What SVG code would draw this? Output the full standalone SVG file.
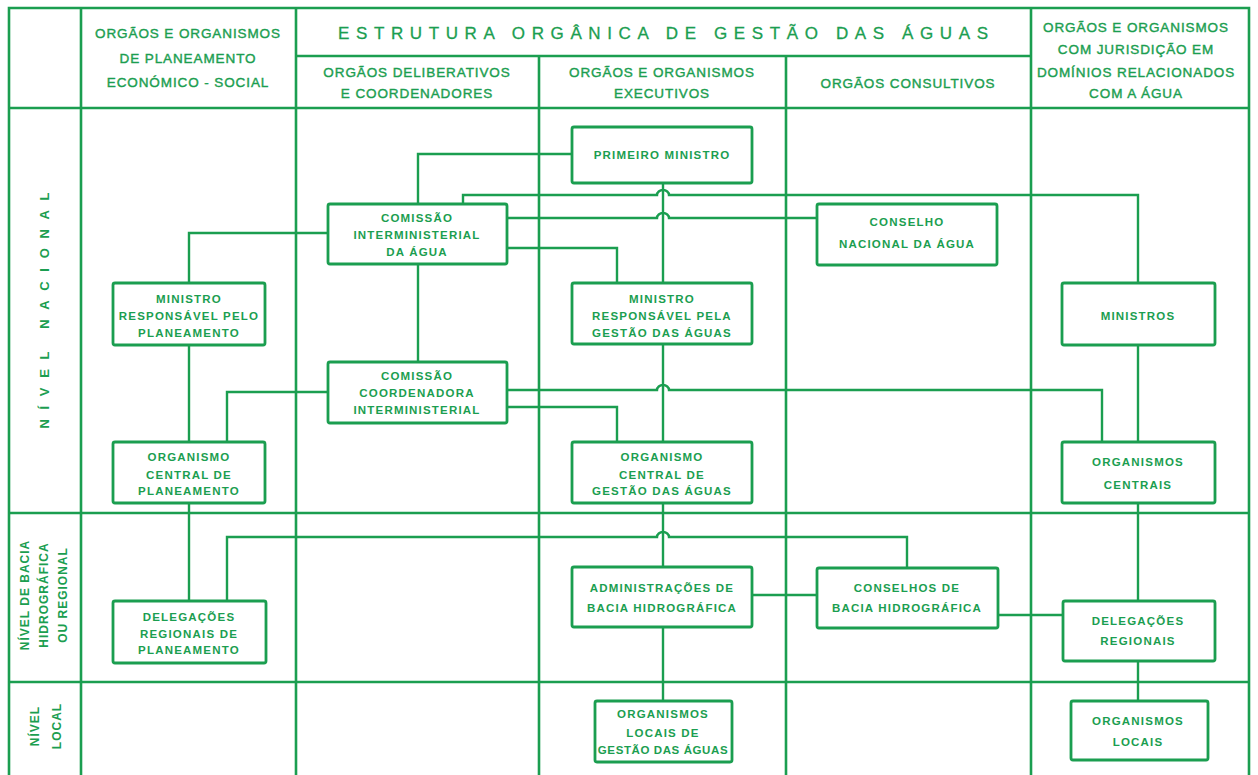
<svg xmlns="http://www.w3.org/2000/svg" width="1258" height="775" viewBox="0 0 1258 775">
<style>
.g{stroke:#1b9e50;stroke-width:2.6;fill:none;stroke-linecap:square}
.c{stroke:#1b9e50;stroke-width:2.4;fill:none}
.b{stroke:#1b9e50;stroke-width:2.8;fill:#fff}
text{font-family:"Liberation Sans","DejaVu Sans",sans-serif;fill:#1b9e50;text-anchor:middle}
.h{font-size:13.5px;letter-spacing:0.9px;stroke:#1b9e50;stroke-width:0.4}
.t{font-size:17px;stroke:#1b9e50;stroke-width:0.3}
.n{font-size:11.5px;font-weight:bold;letter-spacing:1.2px}
.s{font-size:12px;font-weight:bold;letter-spacing:1px}
</style>
<rect width="1258" height="775" fill="#fff"/>
<g id="grid">
<path class="g" d="M9,8 H1249 M9,8 V775 M1249,8 V775 M81,8 V775 M296,8 V775 M1031,8 V775 M539,56 V775 M786,56 V775 M296,56 H1031 M9,108 H1249 M9,513 H1249 M9,682 H1249"/>
</g>
<g id="headers">
<text class="h" x="188" y="38">ORGÃOS E ORGANISMOS</text>
<text class="h" x="188" y="63">DE PLANEAMENTO</text>
<text class="h" x="188" y="87">ECONÓMICO - SOCIAL</text>
<text class="t" x="663" y="39" textLength="650" lengthAdjust="spacing">ESTRUTURA ORGÂNICA DE GESTÃO DAS ÁGUAS</text>
<text class="h" x="417" y="77">ORGÃOS DELIBERATIVOS</text>
<text class="h" x="417" y="98">E COORDENADORES</text>
<text class="h" x="662" y="77">ORGÃOS E ORGANISMOS</text>
<text class="h" x="662" y="98">EXECUTIVOS</text>
<text class="h" x="908" y="88">ORGÃOS CONSULTIVOS</text>
<text class="h" x="1136" y="32">ORGÃOS E ORGANISMOS</text>
<text class="h" x="1136" y="54">COM JURISDIÇÃO EM</text>
<text class="h" x="1136" y="77">DOMÍNIOS RELACIONADOS</text>
<text class="h" x="1136" y="98">COM A ÁGUA</text>
</g>
<g id="levels">
<text class="s" transform="translate(49,310) rotate(-90)" style="font-size:13px" textLength="237" lengthAdjust="spacing">NÍVEL NACIONAL</text>
<text class="s" transform="translate(29,595) rotate(-90)">NÍVEL DE BACIA</text>
<text class="s" transform="translate(48,595) rotate(-90)">HIDROGRÁFICA</text>
<text class="s" transform="translate(67,595) rotate(-90)">OU REGIONAL</text>
<text class="s" transform="translate(39,726) rotate(-90)">NÍVEL</text>
<text class="s" transform="translate(61,726) rotate(-90)">LOCAL</text>
</g>
<g id="connectors">
<path class="c" d="M572,154 H418 V204"/>
<path class="c" d="M418,264 V362"/>
<path class="c" d="M463,204 V195 H657 A6,5 0 0 1 669,195 H1138 V283"/>
<path class="c" d="M507,218 H657 A6,5 0 0 1 669,218 H817"/>
<path class="c" d="M507,248 H617 V283"/>
<path class="c" d="M328,233 H189 V283"/>
<path class="c" d="M189,345 V442"/>
<path class="c" d="M663,183 V283"/>
<path class="c" d="M663,344 V442"/>
<path class="c" d="M328,392 H227 V442"/>
<path class="c" d="M507,390 H657 A6,5 0 0 1 669,390 H1102 V442"/>
<path class="c" d="M507,407 H617 V442"/>
<path class="c" d="M1138,345 V442"/>
<path class="c" d="M189,503 V601"/>
<path class="c" d="M227,601 V537 H657 A6,5 0 0 1 669,537 H907 V568"/>
<path class="c" d="M663,503 V567"/>
<path class="c" d="M663,627 V701"/>
<path class="c" d="M752,595 H817"/>
<path class="c" d="M998,615 H1063"/>
<path class="c" d="M1138,503 V601"/>
<path class="c" d="M1138,661 V701"/>
</g>
<g id="primeiro-ministro">
<rect class="b" x="572" y="127" width="180" height="56" rx="2"/>
<text class="n" x="662" y="159">PRIMEIRO MINISTRO</text>
</g>
<g id="comissao-interministerial">
<rect class="b" x="328" y="204" width="179" height="60" rx="2"/>
<text class="n" x="417" y="222">COMISSÃO</text>
<text class="n" x="417" y="239">INTERMINISTERIAL</text>
<text class="n" x="417" y="256">DA ÁGUA</text>
</g>
<g id="conselho-nacional">
<rect class="b" x="817" y="204" width="180" height="61" rx="2"/>
<text class="n" x="907" y="226">CONSELHO</text>
<text class="n" x="907" y="248">NACIONAL DA ÁGUA</text>
</g>
<g id="ministro-planeamento">
<rect class="b" x="113" y="283" width="152" height="62" rx="2"/>
<text class="n" x="189" y="303">MINISTRO</text>
<text class="n" x="189" y="320">RESPONSÁVEL PELO</text>
<text class="n" x="189" y="337">PLANEAMENTO</text>
</g>
<g id="ministro-gestao">
<rect class="b" x="572" y="283" width="180" height="61" rx="2"/>
<text class="n" x="662" y="303">MINISTRO</text>
<text class="n" x="662" y="320">RESPONSÁVEL PELA</text>
<text class="n" x="662" y="337">GESTÃO DAS ÁGUAS</text>
</g>
<g id="ministros">
<rect class="b" x="1062" y="283" width="153" height="62" rx="2"/>
<text class="n" x="1138" y="320">MINISTROS</text>
</g>
<g id="comissao-coordenadora">
<rect class="b" x="328" y="362" width="179" height="61" rx="2"/>
<text class="n" x="417" y="380">COMISSÃO</text>
<text class="n" x="417" y="397">COORDENADORA</text>
<text class="n" x="417" y="414">INTERMINISTERIAL</text>
</g>
<g id="organismo-central-planeamento">
<rect class="b" x="113" y="442" width="152" height="61" rx="2"/>
<text class="n" x="189" y="461">ORGANISMO</text>
<text class="n" x="189" y="479">CENTRAL DE</text>
<text class="n" x="189" y="495">PLANEAMENTO</text>
</g>
<g id="organismo-central-gestao">
<rect class="b" x="572" y="442" width="180" height="61" rx="2"/>
<text class="n" x="662" y="461">ORGANISMO</text>
<text class="n" x="662" y="479">CENTRAL DE</text>
<text class="n" x="662" y="495">GESTÃO DAS ÁGUAS</text>
</g>
<g id="organismos-centrais">
<rect class="b" x="1062" y="442" width="153" height="61" rx="2"/>
<text class="n" x="1138" y="466">ORGANISMOS</text>
<text class="n" x="1138" y="489">CENTRAIS</text>
</g>
<g id="delegacoes-planeamento">
<rect class="b" x="113" y="601" width="153" height="62" rx="2"/>
<text class="n" x="189" y="621">DELEGAÇÕES</text>
<text class="n" x="189" y="638">REGIONAIS DE</text>
<text class="n" x="189" y="654">PLANEAMENTO</text>
</g>
<g id="administracoes-bacia">
<rect class="b" x="572" y="567" width="180" height="60" rx="2"/>
<text class="n" x="662" y="592">ADMINISTRAÇÕES DE</text>
<text class="n" x="662" y="612">BACIA HIDROGRÁFICA</text>
</g>
<g id="conselhos-bacia">
<rect class="b" x="817" y="568" width="181" height="60" rx="2"/>
<text class="n" x="907" y="592">CONSELHOS DE</text>
<text class="n" x="907" y="612">BACIA HIDROGRÁFICA</text>
</g>
<g id="delegacoes-regionais">
<rect class="b" x="1063" y="601" width="152" height="60" rx="2"/>
<text class="n" x="1138" y="625">DELEGAÇÕES</text>
<text class="n" x="1138" y="645">REGIONAIS</text>
</g>
<g id="organismos-locais-gestao">
<rect class="b" x="595" y="701" width="137" height="61" rx="2"/>
<text class="n" x="663" y="718">ORGANISMOS</text>
<text class="n" x="663" y="737">LOCAIS DE</text>
<text class="n" x="663" y="754" style="letter-spacing:0.6px">GESTÃO DAS ÁGUAS</text>
</g>
<g id="organismos-locais">
<rect class="b" x="1071" y="701" width="137" height="59" rx="2"/>
<text class="n" x="1138" y="725">ORGANISMOS</text>
<text class="n" x="1138" y="746">LOCAIS</text>
</g>
</svg>
